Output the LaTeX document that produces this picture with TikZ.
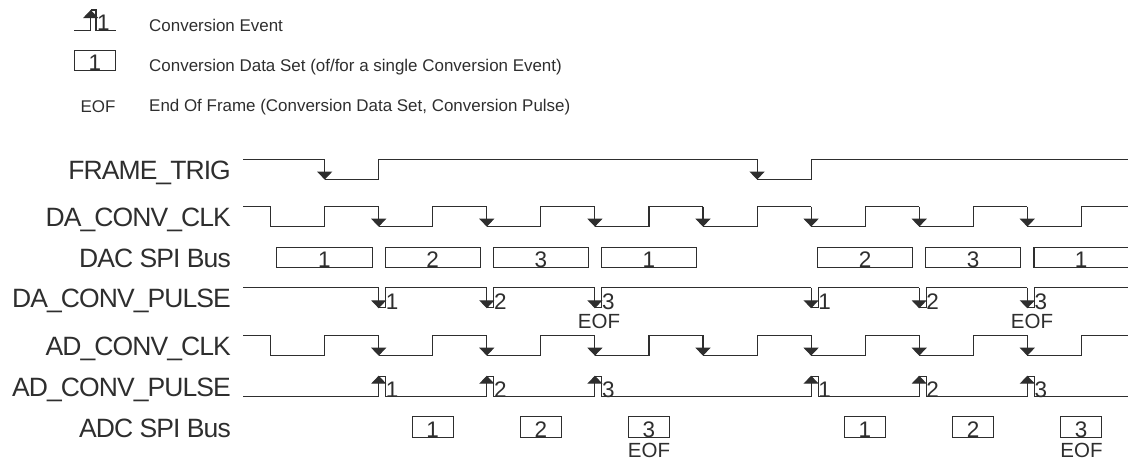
\documentclass[tikz,border=0pt]{standalone}
\usepackage{fontspec}
\setmainfont{Liberation Sans}
\newfontfamily\sigfont[LetterSpace=-3.5]{Liberation Sans}
\usetikzlibrary{arrows.meta,positioning}
\definecolor{wavegray}{HTML}{2E2E2E}
\tikzset{
    wave/.style={draw=wavegray, line width=1.1pt},
    edgedown/.style={wave, -{Triangle[width=15pt,length=8pt]}},
    siglabel/.style={anchor=base east, inner sep=0pt, text=wavegray, font=\sigfont\fontsize{26.5}{27}\selectfont},
    legendtext/.style={anchor=base west, inner sep=0pt, text=wavegray, font=\fontsize{16.95}{17}\selectfont},
    digit/.style={anchor=base west, inner sep=0pt, text=wavegray, font=\fontsize{22.5}{23}\selectfont},
    eoftext/.style={anchor=base, inner sep=0pt, text=wavegray, font=\fontsize{20.5}{21}\selectfont},
    busbox/.style={draw=wavegray, line width=1.1pt, text=wavegray, inner xsep=0pt, inner ysep=0pt,
        text height=20.4pt, text depth=0pt, font=\fontsize{22.5}{23}\selectfont},
}
\newcommand{\clockrow}[2]{%
    \draw[wave] (243,#1) -| (270.7,#2) -- (324.7,#2);
    \foreach \xr in {324.7,432.8,540.9,649,757.1,865.2,973.3} {
        \draw[wave] (\xr,#2) |- ({\xr+54},#1);
        \draw[wave] ({\xr+54},#2) -- ({\xr+108.1},#2);
        \draw[edgedown] ({\xr+54},#1) -- ({\xr+54},#2);
    }
    \draw[wave] (1081.4,#2) |- (1128,#1);
}
\begin{document}
\begin{tikzpicture}[x=1pt,y=-1pt]
    \useasboundingbox (0,0) rectangle (1128,466);
    % legend
    \draw[wave] (74,30.7) -- (90.7,30.7);
    \draw[wave] (90.7,10) -| (96,30.7) -- (115.7,30.7);
    \draw[edgedown] (90.7,30.7) -- (90.7,10);
    \node[digit] (legone) at (97,30.7) {1};
    \node[busbox, minimum width=41.7pt, minimum height=20pt] (legbox) at (94.9,60.7) {1};
    \node[eoftext, font=\fontsize{16.95}{17}\selectfont] (legeof) at (98,112) {EOF};
    \node[legendtext] (legevent) at (149,31) {Conversion Event};
    \node[legendtext] (legset) at (149,71) {Conversion Data Set (of/for a single Conversion Event)};
    \node[legendtext] (legend) at (149,111.7) {End Of Frame (Conversion Data Set, Conversion Pulse)};
    % signal names
    \node[siglabel] (frametrig) at (231,179.3) {FRAME\_TRIG};
    \node[siglabel] (daclk) at (231,226) {DA\_CONV\_CLK};
    \node[siglabel] (dacbus) at (231,267) {DAC SPI Bus};
    \node[siglabel] (dapulse) at (231,307.3) {DA\_CONV\_PULSE};
    \node[siglabel] (adclk) at (231,355.3) {AD\_CONV\_CLK};
    \node[siglabel] (adpulse) at (231,396.5) {AD\_CONV\_PULSE};
    \node[siglabel] (adcbus) at (231,437) {ADC SPI Bus};
    % FRAME_TRIG
    \draw[wave] (243,159.3) -- (324.7,159.3);
    \draw[edgedown] (324.7,159.3) -- (324.7,179.6);
    \draw[wave] (324.7,179.6) -| (378.7,159.3) -- (757.1,159.3);
    \draw[edgedown] (757.1,159.3) -- (757.1,179.6);
    \draw[wave] (757.1,179.6) -| (811.1,159.3) -- (1128,159.3);
    % clocks
    \clockrow{206.7}{226.7}
    \clockrow{335.4}{355.7}
    % DAC bus
    \foreach \cx/\w/\t [count=\i] in {324.5/95.6/1, 432.7/94.7/2, 541/94.7/3, 649/94.7/1, 865/94.7/2, 973.2/95/3} {
        \node[busbox, minimum width=\w pt, minimum height=20.4pt] (dac\i) at (\cx,257.5) {\t};
    }
    \draw[wave] (1128,247.3) -| (1034,267.7) -- (1128,267.7);
    \node[anchor=base, inner sep=0pt, text=wavegray, font=\fontsize{22.5}{23}\selectfont] (dacend) at (1081,267.7) {1};
    % conversion pulses
    \draw[wave] (243,287.7) -- (378.7,287.7);
    \draw[wave] (243,396.7) -- (378.7,396.7);
    \foreach \xe/\xn/\t [count=\i] in {378.7/486.8/1, 486.8/594.9/2, 594.9/811.1/3, 811.1/919.2/1, 919.2/1027.3/2, 1027.3/1128/3} {
        % DA
        \draw[wave] (\xe,307.5) -| ({\xe+7},287.7) -- (\xn,287.7);
        \draw[edgedown] (\xe,287.7) -- (\xe,308.3);
        \node[digit] (dap\i) at ({\xe+7},309) {\t};
        % AD
        \draw[wave] (\xe,376.3) -| ({\xe+7},396.7) -- (\xn,396.7);
        \draw[edgedown] (\xe,396.7) -- (\xe,375.7);
        \node[digit] (adp\i) at ({\xe+7},397) {\t};
    }
    \node[eoftext] (daeofa) at (599,328) {EOF};
    \node[eoftext] (daeofb) at (1032,328) {EOF};
    % ADC bus
    \foreach \cx/\t [count=\i] in {432.7/1, 541/2, 649/3, 864.9/1, 973.2/2, 1081.2/3} {
        \node[busbox, minimum width=41pt, minimum height=20.4pt] (adc\i) at (\cx,427) {\t};
    }
    \node[eoftext] (adeofa) at (649,457) {EOF};
    \node[eoftext] (adeofb) at (1081.5,457) {EOF};
\end{tikzpicture}
\end{document}
